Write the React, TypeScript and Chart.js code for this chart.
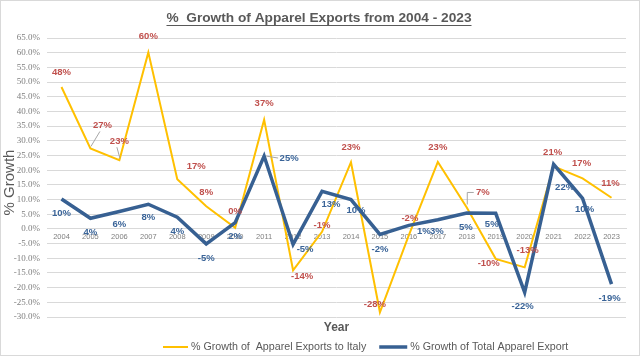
import React, { useEffect, useRef } from 'react';
import { Chart, registerables } from 'chart.js';

Chart.register(...registerables);

const years = ['2004', '2005', '2006', '2007', '2008', '2009', '2010', '2011', '2012', '2013', '2014', '2015', '2016', '2017', '2018', '2019', '2020', '2021', '2022', '2023'];
const italyGrowth = [48.3, 27.4, 23.4, 60.1, 16.9, 7.7, 0.4, 37.2, -14.1, -1.0, 22.7, -28.4, -2.1, 22.8, 7.3, -10.2, -13.1, 21.3, 17.2, 10.6];
const totalGrowth = [10.2, 3.6, 5.9, 8.4, 4.0, -5.1, 2.1, 24.8, -5.3, 12.8, 10.0, -1.9, 1.2, 3.1, 5.4, 5.3, -21.6, 22.0, 10.4, -18.8];
const italyLabel = '% Growth of  Apparel Exports to Italy';
const totalLabel = '% Growth of Total Apparel Export';
const chartTitle = '%  Growth of Apparel Exports from 2004 - 2023';
const yTicksMin = -30;
const yTicksMax = 65;

// label placement (dx, dy from the point, and whether a leader line is drawn)
const italyLabelOffsets: [number, number, number][] = [
  [0, -15, 0], [12, -23, 1], [0, -19, 1], [0, -16, 0], [19, -13, 0], [0, -14, 0], [0, -16, 0], [0, -16, 0], [9, 6, 0], [0, -6, 0],
  [0, -15, 0], [-5, -8, 0], [1, -17, 0], [0, -15, 0], [16, -15, 2], [-7, 5, 0], [3, -17, 0], [-1, -14, 0], [-1, -15, 0], [-1, -14, 0],
];
const totalLabelOffsets: [number, number, number][] = [
  [0, 14, 0], [0, 14, 0], [0, 13, 0], [0, 13, 0], [0, 14, 0], [0, 15, 0], [0, 14, 0], [25, 2, 3], [12, 5, 0], [9, 13, 0],
  [5, 11, 0], [0, 15, 0], [15, 6, 0], [-1, 12, 0], [-1, 14, 0], [-4, 11, 0], [-2, 14, 0], [11, 23, 0], [2, 11, 0], [-2, 14, 0],
];

const YELLOW = '#FFC000';
const BLUE = '#376092';
const RED_LABEL = '#C0504D';
const BLUE_LABEL = '#3A6498';
const GREY_TEXT = '#595959';

const overlay = {
  id: 'overlay',
  afterDatasetsDraw(chart: any) {
    const ctx = chart.ctx;
    const xs = chart.scales.x;
    const ys = chart.scales.y;
    const sets = [
      { data: italyGrowth, offs: italyLabelOffsets, color: RED_LABEL },
      { data: totalGrowth, offs: totalLabelOffsets, color: BLUE_LABEL },
    ];
    ctx.save();
    ctx.font = 'bold 9.5px "Liberation Sans", Arial, sans-serif';
    ctx.textAlign = 'center';
    ctx.textBaseline = 'middle';
    sets.forEach((s) => {
      s.data.forEach((v, i) => {
        const px = xs.getPixelForValue(i);
        const py = ys.getPixelForValue(v);
        const [dx, dy, lead] = s.offs[i];
        const lx = px + dx;
        const ly = py + dy;
        if (lead) {
          ctx.strokeStyle = '#A6A6A6';
          ctx.lineWidth = 1;
          ctx.beginPath();
          if (lead === 1) {
            ctx.moveTo(px + 0.5, py - 2);
            ctx.lineTo(lx - 2.5, ly + 6);
          } else if (lead === 2) {
            ctx.moveTo(px + 0.5, py - 3);
            ctx.lineTo(px + 0.5, ly);
            ctx.lineTo(lx - 9, ly);
          } else {
            ctx.moveTo(px + 2, py);
            ctx.lineTo(lx - 11, ly);
          }
          ctx.stroke();
        }
        ctx.fillStyle = s.color;
        ctx.fillText(Math.round(v) + '%', lx, ly);
      });
    });
    ctx.restore();
  },
  afterDraw(chart: any) {
    const ctx = chart.ctx;
    const area = chart.chartArea;
    ctx.save();
    // title
    ctx.fillStyle = GREY_TEXT;
    ctx.strokeStyle = GREY_TEXT;
    ctx.font = 'bold 13.7px "Liberation Sans", Arial, sans-serif';
    ctx.textAlign = 'center';
    ctx.textBaseline = 'middle';
    const tx = 319;
    const tw = ctx.measureText(chartTitle).width;
    ctx.fillText(chartTitle, tx, 18);
    ctx.lineWidth = 1;
    ctx.beginPath();
    ctx.moveTo(tx - tw / 2, 25.5);
    ctx.lineTo(tx + tw / 2, 25.5);
    ctx.stroke();
    // y title
    ctx.save();
    ctx.translate(10, (area.top + area.bottom) / 2 + 5);
    ctx.rotate(-Math.PI / 2);
    ctx.font = '15px "Liberation Sans", Arial, sans-serif';
    ctx.fillText('% Growth', 0, 0);
    ctx.restore();
    // x title
    ctx.font = 'bold 12px "Liberation Sans", Arial, sans-serif';
    ctx.fillText('Year', (area.left + area.right) / 2, 328);
    // legend
    ctx.font = '10.7px "Liberation Sans", Arial, sans-serif';
    ctx.textAlign = 'left';
    const ly = 347;
    let x = 163;
    const items = [
      { label: italyLabel, color: YELLOW, w: 2, len: 25 },
      { label: totalLabel, color: BLUE, w: 3.5, len: 28 },
    ];
    items.forEach((it) => {
      ctx.strokeStyle = it.color;
      ctx.lineWidth = it.w;
      ctx.beginPath();
      ctx.moveTo(x, ly);
      ctx.lineTo(x + it.len, ly);
      ctx.stroke();
      x += it.len + 3;
      ctx.fillStyle = GREY_TEXT;
      ctx.fillText(it.label, x, ly);
      x += ctx.measureText(it.label).width + 13;
    });
    // border
    ctx.strokeStyle = '#D9D9D9';
    ctx.lineWidth = 1;
    ctx.strokeRect(0.5, 0.5, chart.width - 1, chart.height - 1);
    ctx.restore();
  },
};

export default function App() {
  const ref = useRef<HTMLCanvasElement | null>(null);
  useEffect(() => {
    document.body.style.margin = '0';
    if (!ref.current) return;
    const chart = new Chart(ref.current, {
      type: 'line',
      data: {
        labels: years,
        datasets: [
          {
            label: italyLabel,
            data: italyGrowth,
            borderColor: YELLOW,
            backgroundColor: YELLOW,
            borderWidth: 2,
            pointRadius: 0,
            tension: 0,
            order: 2,
          },
          {
            label: totalLabel,
            data: totalGrowth,
            borderColor: BLUE,
            backgroundColor: BLUE,
            borderWidth: 3.5,
            pointRadius: 0,
            tension: 0,
            order: 1,
          },
        ],
      },
      options: {
        responsive: false,
        animation: false,
        layout: { padding: { top: 38, bottom: 39, left: 0, right: 14 } },
        plugins: {
          legend: { display: false },
          title: { display: false },
          tooltip: { enabled: false },
        },
        scales: {
          x: {
            type: 'category',
            position: { y: 0 } as any,
            offset: true,
            grid: { display: false, drawTicks: false },
            border: { display: true, color: '#D9D9D9', width: 1 },
            ticks: {
              padding: 4,
              maxRotation: 0,
              autoSkip: false,
              color: '#7F7F7F',
              font: { family: '"Liberation Sans", Arial, sans-serif', size: 7.5 },
            },
          },
          y: {
            min: yTicksMin,
            max: yTicksMax,
            afterFit: (scale: any) => {
              scale.width = 47;
            },
            grid: { color: '#D9D9D9', drawTicks: false },
            border: { display: false },
            ticks: {
              stepSize: 5,
              padding: 7,
              color: '#7F7F7F',
              font: { family: '"Liberation Serif", "Times New Roman", serif', size: 9 },
              callback: (v: any) => Number(v).toFixed(1) + '%',
            },
          },
        },
      },
      plugins: [overlay],
    });
    return () => chart.destroy();
  }, []);
  return (
    <div style={{ width: 640, height: 356 }}>
      <canvas ref={ref} width={640} height={356} style={{ display: 'block' }} />
    </div>
  );
}
